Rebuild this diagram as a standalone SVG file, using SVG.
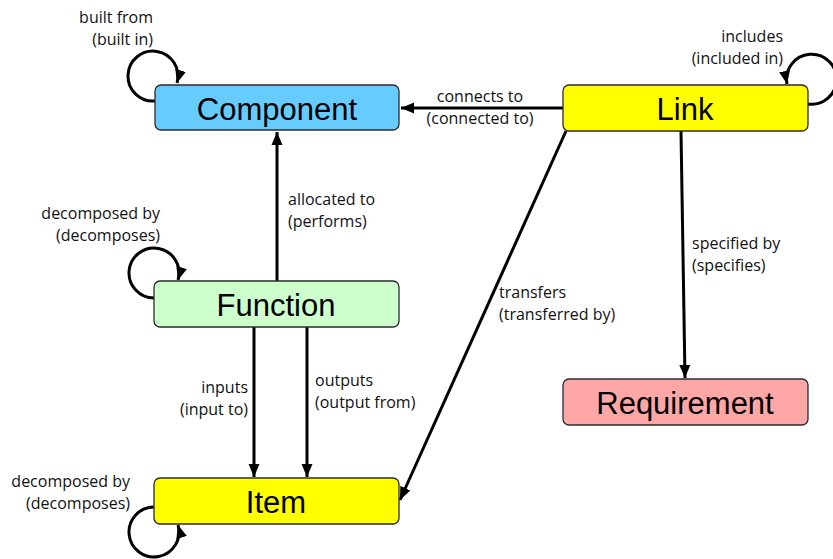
<svg xmlns="http://www.w3.org/2000/svg" width="833" height="559" viewBox="0 0 833 559">
<defs>
<style>
.node{stroke:#2b2b2b;stroke-width:1.3}
.nt{font-family:"Liberation Sans",Arial,sans-serif;font-size:31px;fill:#000;text-anchor:middle}
.lb{font-family:"Open Sans","Noto Sans",sans-serif;font-size:16px;fill:#111}
.r{text-anchor:end}
.c{text-anchor:middle}
.e{fill:none;stroke:#000;stroke-width:3;marker-end:url(#ah)}
</style>
<marker id="ah" markerUnits="userSpaceOnUse" markerWidth="14" markerHeight="14" viewBox="0 0 14 14" refX="13" refY="7" orient="auto">
<path d="M0,1.5 L13,7 L0,12.5 Z" fill="#000"/>
</marker>
</defs>
<rect width="833" height="559" fill="#fff"/>
<g id="connectors">
<path class="e" d="M563,108 L401,108"/>
<path class="e" d="M277,281 L277,132"/>
<path class="e" d="M254,327 L254,477"/>
<path class="e" d="M307,327 L307,477"/>
<path class="e" d="M681,131 L685,378"/>
<path class="e" d="M566,131 L400,500"/>
<path class="e" d="M155,101 A25,25 0 1 1 177,83"/>
<path class="e" d="M154,298 A25,25 0 1 1 178,280"/>
<path class="e" d="M154,507 A25,25 0 1 0 178,525"/>
<path class="e" d="M808,104 A25,25 0 1 0 787,84"/>
</g>
<g id="labels">
<text class="lb r" x="153" y="23">built from</text>
<text class="lb r" x="153" y="45">(built in)</text>
<text class="lb r" x="783" y="42">includes</text>
<text class="lb r" x="783" y="64">(included in)</text>
<text class="lb c" x="480" y="102">connects to</text>
<text class="lb c" x="480" y="124">(connected to)</text>
<text class="lb" x="288" y="205">allocated to</text>
<text class="lb" x="288" y="227">(performs)</text>
<text class="lb r" x="160" y="219">decomposed by</text>
<text class="lb r" x="160" y="241">(decomposes)</text>
<text class="lb r" x="248" y="393">inputs</text>
<text class="lb r" x="248" y="415">(input to)</text>
<text class="lb" x="315" y="386">outputs</text>
<text class="lb" x="315" y="408">(output from)</text>
<text class="lb r" x="130" y="487">decomposed by</text>
<text class="lb r" x="130" y="509">(decomposes)</text>
<text class="lb" x="499" y="298">transfers</text>
<text class="lb" x="499" y="320">(transferred by)</text>
<text class="lb" x="692" y="249">specified by</text>
<text class="lb" x="692" y="271">(specifies)</text>
</g>
<g id="component">
<rect class="node" x="155" y="85" width="244" height="45" rx="6" fill="#66CCFF"/>
<text class="nt" x="277" y="120">Component</text>
</g>
<g id="link">
<rect class="node" x="563" y="85" width="245" height="46" rx="6" fill="#FFFF00"/>
<text class="nt" x="685" y="120">Link</text>
</g>
<g id="function">
<rect class="node" x="154" y="281" width="245" height="46" rx="6" fill="#CCFFCC"/>
<text class="nt" x="276" y="316">Function</text>
</g>
<g id="item">
<rect class="node" x="154" y="478" width="245" height="46" rx="6" fill="#FFFF00"/>
<text class="nt" x="276" y="513">Item</text>
</g>
<g id="requirement">
<rect class="node" x="563" y="379" width="245" height="46" rx="6" fill="#FFA6A6"/>
<text class="nt" x="685" y="414">Requirement</text>
</g>
</svg>
